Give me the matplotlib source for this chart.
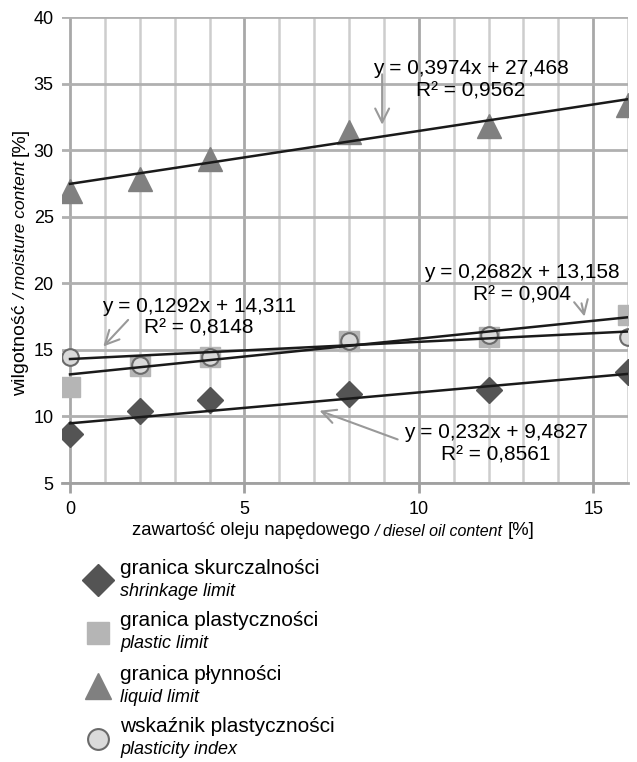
import numpy as np
import matplotlib.pyplot as plt
from matplotlib.lines import Line2D

plt.rcParams['font.family'] = ['Liberation Sans', 'DejaVu Sans']

# zawartosc oleju [%]
oil = [0, 2, 4, 8, 12, 16]
shrinkage = [8.7, 10.4, 11.2, 11.7, 12.0, 13.3]
plastic = [12.2, 13.8, 14.5, 15.7, 16.0, 17.6]
liquid = [26.9, 27.8, 29.3, 31.4, 31.8, 33.4]
plast_index = [14.5, 13.9, 14.5, 15.7, 16.1, 16.0]

# trend lines (slope, intercept, R2) as printed on the chart
fit_shrinkage = (0.232, 9.4827, 0.8561)
fit_plastic = (0.2682, 13.158, 0.904)
fit_liquid = (0.3974, 27.468, 0.9562)
fit_index = (0.1292, 14.311, 0.8148)

names_pl = ['granica skurczalności', 'granica plastyczności',
            'granica płynności', 'wskaźnik plastyczności']
names_en = ['shrinkage limit', 'plastic limit', 'liquid limit', 'plasticity index']


def eq(fit):
    a, b, r2 = fit
    s = 'y = ' + str(a).replace('.', ',') + 'x + ' + str(b).replace('.', ',')
    return s + '\nR² = ' + str(r2).replace('.', ',')


fig = plt.figure(figsize=(6.37, 7.62), dpi=100)
ax = fig.add_axes([62 / 637, 1 - 483 / 762, (628 - 62) / 637, (483 - 17) / 762])

ax.set_xlim(-0.23, 16)
ax.set_ylim(5, 40)
ax.set_xticks([0, 5, 10, 15])
ax.set_yticks(range(5, 41, 5))

# grid
for x in range(0, 17):
    if x % 5 == 0:
        ax.axvline(x, color='#a8a8a8', lw=2.0, zorder=1)
    else:
        ax.axvline(x, color='#cdcdcd', lw=1.8, zorder=1)
for y in range(5, 41, 5):
    ax.axhline(y, color='#b0b0b0', lw=2.0, zorder=1)

for s in ['top', 'right', 'left']:
    ax.spines[s].set_visible(False)
ax.spines['bottom'].set_color('#a0a0a0')
ax.spines['bottom'].set_linewidth(2)
ax.tick_params(axis='x', length=7, width=2, color='#a0a0a0', labelsize=13, pad=6)
ax.tick_params(axis='y', length=0, labelsize=13, pad=6)

# trend lines
xf = np.array([0, 16])
for fit in [fit_shrinkage, fit_plastic, fit_liquid, fit_index]:
    ax.plot(xf, fit[0] * xf + fit[1], color='#1a1a1a', lw=1.8, zorder=4)

mk = [dict(marker='D', ms=13, color='#545454', mec='#545454'),
      dict(marker='s', ms=15, color='#b5b5b5', mec='#b5b5b5'),
      dict(marker='^', ms=17, color='#808080', mec='#808080'),
      dict(marker='o', ms=12, color='#dadada', mec='#6a6a6a', mew=1.5)]
for vals, st, z in zip([shrinkage, plastic, liquid, plast_index], mk, [3, 3, 3, 3.5]):
    ax.plot(oil, vals, ls='none', zorder=z, **st)

arrow = dict(arrowstyle='->', color='#999999', lw=1.5, mutation_scale=25)
ax.annotate('', xy=(8.95, 31.7), xytext=(8.95, 35.9), arrowprops=arrow, zorder=5)
ax.annotate('', xy=(0.9, 15.1), xytext=(1.72, 17.4), arrowprops=arrow, zorder=5)
ax.annotate('', xy=(14.77, 17.3), xytext=(14.65, 18.7), arrowprops=arrow, zorder=5)
ax.annotate('', xy=(7.08, 10.5), xytext=(9.47, 8.2), arrowprops=arrow, zorder=5)

tk = dict(fontsize=15, ha='center', va='center', linespacing=1.2, zorder=6)
ax.text(11.5, 35.3, eq(fit_liquid), **tk)
ax.text(3.7, 17.45, eq(fit_index), **tk)
ax.text(12.95, 19.95, eq(fit_plastic), **tk)
ax.text(12.2, 7.95, eq(fit_shrinkage), **tk)

# x label
t1 = fig.text(132 / 637, 1 - 539 / 762, 'zawartość oleju napędowego ', fontsize=13.3,
              ha='left', va='bottom')
a2 = ax.annotate('/ diesel oil content ', xy=(1, 0), xycoords=t1, fontsize=11.5,
                 style='italic', ha='left', va='bottom', annotation_clip=False)
ax.annotate('[%]', xy=(1, 0), xycoords=a2, fontsize=13.3, ha='left', va='bottom',
            annotation_clip=False)

# y label
y1 = fig.text(29 / 637, 1 - 396 / 762, 'wilgotność ', fontsize=14, rotation=90,
              ha='right', va='bottom')
y2 = ax.annotate('/ moisture content ', xy=(1, 1), xycoords=y1, fontsize=12.5,
                 style='italic', rotation=90, ha='right', va='bottom',
                 annotation_clip=False)
ax.annotate('[%]', xy=(1, 1), xycoords=y2, fontsize=14, rotation=90, ha='right',
            va='bottom', annotation_clip=False)

# legend
leg_ms = [16, 16, 19, 15]
for i, (pl, en, st, ms) in enumerate(zip(names_pl, names_en, mk, leg_ms)):
    yc = 580 + 53 * i
    st = dict(st, ms=ms)
    fig.add_artist(Line2D([98 / 637], [1 - yc / 762], transform=fig.transFigure,
                          ls='none', **st))
    fig.text(120 / 637, 1 - (yc - 12) / 762, pl, fontsize=15, ha='left', va='center')
    fig.text(120 / 637, 1 - (yc + 11) / 762, en, fontsize=13, style='italic',
             ha='left', va='center')

fig.savefig('out.png', dpi=100)
